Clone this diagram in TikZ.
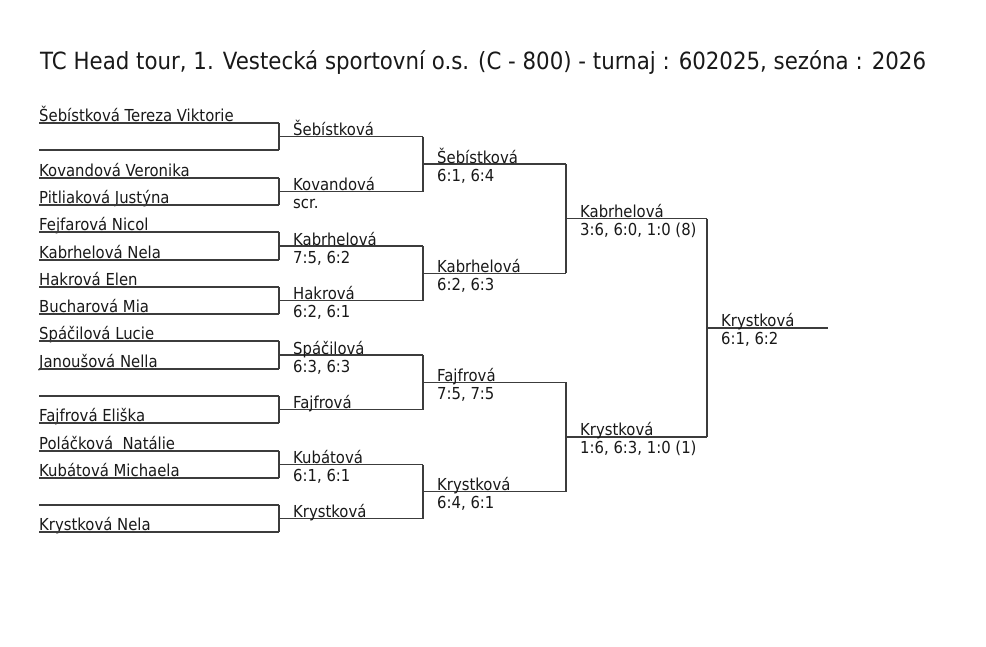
\documentclass[tikz,border=0pt]{standalone}
\usepackage{fontspec}
\setmainfont[FakeStretch=0.9]{DejaVu Sans}
\usetikzlibrary{calc}

\definecolor{linegray}{RGB}{60,60,60}
\definecolor{inkblack}{RGB}{25,25,25}

\tikzset{
  rule/.style={draw=linegray, line width=1.5pt},
  player/.style={anchor=base west, inner sep=0pt, text=inkblack, font=\fontsize{16.5}{19}\selectfont},
  result/.style={player},
}

\begin{document}
\begin{tikzpicture}[x=1pt,y=-1pt]

    \useasboundingbox[fill=white] (0,0) rectangle (986,646);

    \node[anchor=base west, inner sep=0pt, text=inkblack, font=\fontsize{23.7}{28}\selectfont] (title) at (40,69)
        {TC Head tour, 1. Vestecká sportovní o.s. (C - 800) - turnaj : 602025, sezóna : 2026};

    % first round
    \foreach \y/\name [count=\i] in {123/Šebístková Tereza Viktorie, 150/{}, 178/Kovandová Veronika,
        205/Pitliaková Justýna, 232/Fejfarová Nicol, 260/Kabrhelová Nela, 287/Hakrová Elen,
        314/Bucharová Mia, 341/Spáčilová Lucie, 369/Janoušová Nella, 396/{}, 423/Fajfrová Eliška,
        451/Poláčková\ \ Natálie, 478/Kubátová Michaela, 505/{}, 532/Krystková Nela}{
        \coordinate (a\i) at (39,\y);
        \coordinate (b\i) at (279,\y);
        \node[player] (p\i) at (39,\y-1.5) {\name};
        \draw[rule] (a\i) -- (b\i);
    }

    % second round
    \foreach \k [evaluate=\k as \i using int(2*\k-1), evaluate=\k as \j using int(2*\k)] in {1,...,8}{
        \draw[rule] (b\i) -- (b\j);
        \coordinate (c\k) at ($(b\i)!.5!(b\j)$);
        \coordinate (d\k) at ($(c\k)+(144,0)$);
        \draw[rule] (c\k) -- (d\k);
    }
    \foreach \k/\who/\score in {1/Šebístková/, 2/Kovandová/scr., 3/Kabrhelová/{7:5, 6:2},
        4/Hakrová/{6:2, 6:1}, 5/Spáčilová/{6:3, 6:3}, 6/Fajfrová/, 7/Kubátová/{6:1, 6:1},
        8/Krystková/}{
        \node[player] (w\k) at ($(c\k)+(14,-1)$) {\who};
        \node[result] (s\k) at ($(c\k)+(14,17)$) {\score};
    }

    % third round
    \foreach \k [evaluate=\k as \i using int(2*\k-1), evaluate=\k as \j using int(2*\k)] in {1,...,4}{
        \draw[rule] (d\i) -- (d\j);
        \coordinate (f\k) at ($(d\i)!.5!(d\j)$);
        \coordinate (g\k) at ($(f\k)+(143,0)$);
        \draw[rule] (f\k) -- (g\k);
    }
    \node[player] (x1) at ($(f1)+(14,-1)$) {Šebístková};
    \node[result] (y1) at ($(f1)+(14,17)$) {6:1, 6:4};
    \node[player] (x2) at ($(f2)+(14,-1)$) {Kabrhelová};
    \node[result] (y2) at ($(f2)+(14,17)$) {6:2, 6:3};
    \node[player] (x3) at ($(f3)+(14,-1)$) {Fajfrová};
    \node[result] (y3) at ($(f3)+(14,17)$) {7:5, 7:5};
    \node[player] (x4) at ($(f4)+(14,-1)$) {Krystková};
    \node[result] (y4) at ($(f4)+(14,17)$) {6:4, 6:1};

    % semifinals
    \draw[rule] (g1) -- (g2);
    \coordinate (u1) at ($(g1)!.5!(g2)$);
    \coordinate (v1) at ($(u1)+(141,0)$);
    \draw[rule] (u1) -- (v1);
    \draw[rule] (g3) -- (g4);
    \coordinate (u2) at ($(g3)!.5!(g4)$);
    \coordinate (v2) at ($(u2)+(141,0)$);
    \draw[rule] (u2) -- (v2);
    \node[player] (semi1) at ($(u1)+(14,-1)$) {Kabrhelová};
    \node[result] (semiscore1) at ($(u1)+(14,17)$) {3:6, 6:0, 1:0 (8)};
    \node[player] (semi2) at ($(u2)+(14,-1)$) {Krystková};
    \node[result] (semiscore2) at ($(u2)+(14,17)$) {1:6, 6:3, 1:0 (1)};

    % final
    \draw[rule] (v1) -- (v2);
    \coordinate (champ) at ($(v1)!.5!(v2)$);
    \coordinate (champend) at ($(champ)+(121,0)$);
    \draw[rule] (champ) -- (champend);
    \node[player] (winner) at ($(champ)+(14,-1)$) {Krystková};
    \node[result] (winscore) at ($(champ)+(14,17)$) {6:1, 6:2};

\end{tikzpicture}
\end{document}
